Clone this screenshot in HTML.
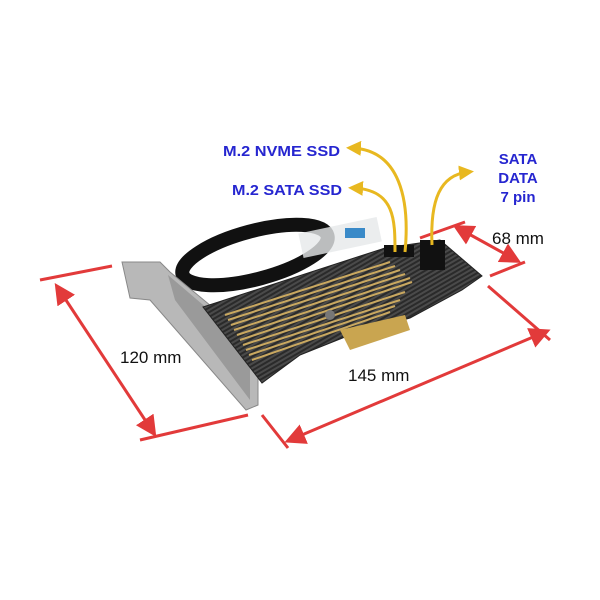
<!DOCTYPE html>
<html><head><style>body{margin:0;background:#fff}svg{display:block}</style></head><body>
<svg width="600" height="600" viewBox="0 0 600 600" xmlns="http://www.w3.org/2000/svg" font-family="Liberation Sans, sans-serif">
<defs>
<pattern id="cf" width="4" height="4" patternUnits="userSpaceOnUse" patternTransform="rotate(60)"><rect width="4" height="4" fill="#2a2a2a"/><rect width="2" height="4" fill="#4a4a4a"/></pattern>
<marker id="ra" markerWidth="7" markerHeight="7" refX="5" refY="3.5" orient="auto-start-reverse"><path d="M0,0 L7,3.5 L0,7 z" fill="#e23a3a"/></marker>
<marker id="ya" markerWidth="5" markerHeight="5" refX="3" refY="2.5" orient="auto"><path d="M0,0 L5,2.5 L0,5 z" fill="#e8b820"/></marker>
</defs>
<ellipse cx="255" cy="255" rx="75" ry="24" transform="rotate(-15 255 255)" fill="none" stroke="#111" stroke-width="14"/>
<rect x="300" y="225" width="80" height="25" fill="#e6e8ea" opacity="0.8" transform="rotate(-12 340 237)"/>
<rect x="345" y="228" width="20" height="10" fill="#3a8ac8"/>
<polygon points="122,262 160,262 170,272 258,345 258,405 246,410 150,300 130,298" fill="#b8b8b8" stroke="#888"/>
<polygon points="168,275 250,345 250,400 175,300" fill="#9a9a9a"/>
<polygon points="203,307 385,248 440,240 482,276 462,290 410,318 350,335 300,355 262,383" fill="url(#cf)" stroke="#222"/>
<g stroke="#c9a860" stroke-width="2">
<line x1="225" y1="315" x2="390" y2="262"/><line x1="228" y1="320" x2="395" y2="266"/>
<line x1="231" y1="325" x2="400" y2="270"/><line x1="234" y1="330" x2="405" y2="274"/>
<line x1="237" y1="335" x2="410" y2="278"/><line x1="240" y1="340" x2="412" y2="282"/>
<line x1="243" y1="345" x2="405" y2="292"/><line x1="246" y1="350" x2="400" y2="300"/>
<line x1="249" y1="355" x2="395" y2="306"/><line x1="252" y1="360" x2="390" y2="312"/>
</g>
<polygon points="340,330 405,315 410,330 350,350" fill="#c9a550"/>
<rect x="384" y="245" width="30" height="12" fill="#111"/>
<rect x="420" y="240" width="25" height="30" fill="#111"/>
<circle cx="330" cy="315" r="5" fill="#777"/>
<g stroke="#e23a3a" stroke-width="3">
<line x1="40" y1="280" x2="112" y2="266"/><line x1="140" y1="440" x2="248" y2="415"/>
<line x1="58" y1="288" x2="153" y2="432" marker-start="url(#ra)" marker-end="url(#ra)"/>
<line x1="262" y1="415" x2="288" y2="448"/><line x1="488" y1="286" x2="550" y2="340"/>
<line x1="290" y1="440" x2="545" y2="332" marker-start="url(#ra)" marker-end="url(#ra)"/>
<line x1="420" y1="238" x2="465" y2="222"/><line x1="490" y1="276" x2="525" y2="262"/>
<line x1="458" y1="228" x2="516" y2="260" marker-start="url(#ra)" marker-end="url(#ra)"/>
</g>
<g fill="#111" font-size="17">
<text x="120" y="363">120 mm</text><text x="348" y="381">145 mm</text><text x="492" y="244">68 mm</text>
</g>
<g fill="none" stroke="#e8b820" stroke-width="3">
<path d="M405,252 C410,200 400,150 352,148" marker-end="url(#ya)"/>
<path d="M395,252 C395,220 395,190 354,188" marker-end="url(#ya)"/>
<path d="M432,245 C430,200 440,175 468,172" marker-end="url(#ya)"/>
</g>
<g fill="#2626d0" font-size="15" font-weight="bold">
<text x="223" y="156" textLength="117" lengthAdjust="spacingAndGlyphs">M.2 NVME SSD</text>
<text x="232" y="195" textLength="110" lengthAdjust="spacingAndGlyphs">M.2 SATA SSD</text>
<text x="518" y="164" text-anchor="middle">SATA</text>
<text x="518" y="183" text-anchor="middle">DATA</text>
<text x="518" y="202" text-anchor="middle">7 pin</text>
</g>
</svg>
</body></html>
